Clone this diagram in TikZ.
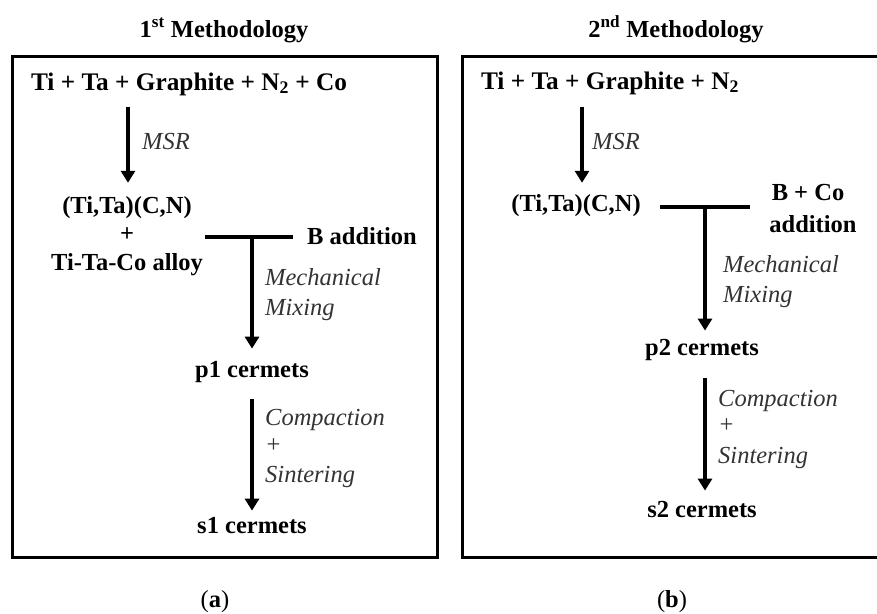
\documentclass[tikz,border=0pt]{standalone}
\usepackage{fontspec}
\setmainfont{Liberation Serif}
\usetikzlibrary{arrows.meta}
\tikzset{
  x=1pt, y=-1pt,
  bt/.style={font=\fontsize{24.5}{27}\selectfont\bfseries, inner sep=0pt, anchor=base, text=black},
  srct/.style={font=\fontsize{25.3}{27}\selectfont\bfseries, inner sep=0pt, anchor=base, text=black},
  it/.style={font=\fontsize{24.5}{27}\selectfont\itshape, inner sep=0pt, anchor=base west, text=black!80},
  frame/.style={line width=3pt, black},
  arr/.style={line width=3.2pt, -{Triangle[width=14pt,length=12pt]}},
  tbar/.style={line width=3.5pt},
}
\begin{document}
\begin{tikzpicture}
\useasboundingbox (0,0) rectangle (877,613);
% frames
\draw[frame] (12,56) rectangle (437,557);
\draw[frame] (880,56) -- (462,56) -- (462,557) -- (880,557);

% titles
\node[bt] (t1) at (224,37) {1\textsuperscript{st} Methodology};
\node[bt] (t2) at (676,37) {2\textsuperscript{nd} Methodology};

% ===== left =====
\node[srct] (srcL) at (189,90) {Ti + Ta + Graphite + N\textsubscript{2} + Co};
\node[bt] (ticnL) at (127,213) {(Ti,Ta)(C,N)};
\node[bt] (plusL) at (127,241) {+};
\node[bt] (alloyL) at (127,270) {Ti-Ta-Co alloy};
\node[bt, anchor=base west] (baddL) at (307,244) {B addition};
\node[bt] (p1) at (252,377) {p1 cermets};
\node[bt] (s1) at (252,533) {s1 cermets};
\node[it] (msrL) at (142,149) {MSR};
\node[it] (mechL) at (265,285) {Mechanical};
\node[it] (mixL) at (265,315) {Mixing};
\node[it] (compL) at (265,425) {Compaction};
\node[it] (cplusL) at (265,452) {+};
\node[it] (sintL) at (265,482) {Sintering};
\coordinate (jL) at (252,237);

\draw[arr] ([xshift=1pt,yshift=-11pt]srcL.south -| ticnL) -- ([xshift=1pt,yshift=13pt]ticnL.north);
\draw[tbar] ([xshift=2pt]jL -| alloyL.east) -- ([xshift=-14pt]jL -| baddL.west);
\draw[arr] (jL) -- ([yshift=12pt]p1.north);
\draw[arr] ([yshift=-17pt]p1.south) -- ([yshift=6pt]s1.north);

% ===== right =====
\node[srct] (srcR) at (610,89) {Ti + Ta + Graphite + N\textsubscript{2}};
\node[bt] (ticnR) at (576,211) {(Ti,Ta)(C,N)};
\node[bt] (bcoR) at (808,200) {B + Co};
\node[bt] (addR) at (813,232) {addition};
\node[bt] (p2) at (702,355) {p2 cermets};
\node[bt] (s2) at (702,517) {s2 cermets};
\node[it] (msrR) at (592,149) {MSR};
\node[it] (mechR) at (723,272) {Mechanical};
\node[it] (mixR) at (723,302) {Mixing};
\node[it] (compR) at (718,406) {Compaction};
\node[it] (cplusR) at (718,432) {+};
\node[it] (sintR) at (718,463) {Sintering};
\coordinate (jR) at (705,207);

\draw[arr] ([xshift=6pt,yshift=-12pt]srcR.south -| ticnR) -- ([xshift=6pt,yshift=11pt]ticnR.north);
\draw[tbar] ([xshift=19pt]jR -| ticnR.east) -- ([xshift=-22pt]jR -| bcoR.west);
\draw[arr] (jR) -- ([yshift=8pt]p2.north -| jR);
\draw[arr] ([yshift=-18pt]p2.south -| jR) -- ([yshift=10pt]s2.north -| jR);

% captions
\node[font=\fontsize{24.5}{27}\selectfont, inner sep=0pt, anchor=base] (capa) at (215,607) {(\textbf{a})};
\node[font=\fontsize{24.5}{27}\selectfont, inner sep=0pt, anchor=base] (capb) at (672,607) {(\textbf{b})};
\end{tikzpicture}
\end{document}
